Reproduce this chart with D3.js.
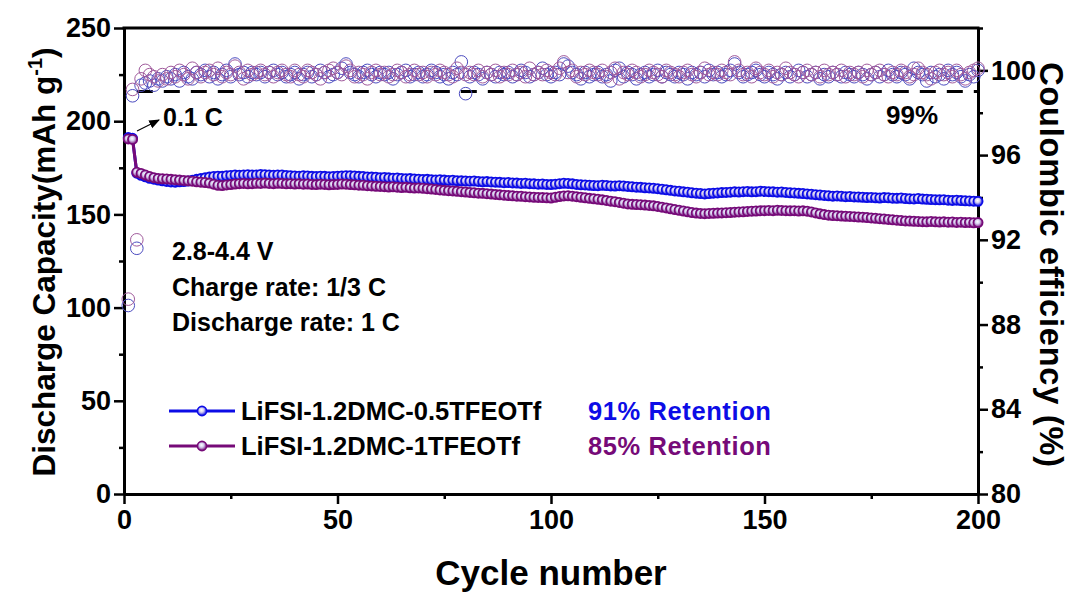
<!DOCTYPE html>
<html>
<head>
<meta charset="utf-8">
<script src="https://cdn.jsdelivr.net/npm/d3@7"></script>
<style>
  body { margin: 0; background: #fff; }
  text { font-family: "Liberation Sans", Arial, sans-serif; font-weight: bold; }
</style>
</head>
<body>
<script>
// discharge capacity, LiFSI-1.2DMC-0.5TFEOTf (mAh/g), cycles 1..200
var cap05 = [
  191.2,190.8,172.1,171.0,170.2,169.4,168.9,168.4,168.0,167.7,
  167.4,167.3,167.5,167.6,167.9,168.3,168.8,169.2,169.6,170.0,
  170.3,170.5,170.4,170.7,170.9,171.1,171.0,171.2,171.3,171.1,
  171.2,171.4,171.3,171.1,171.0,171.2,171.1,170.9,170.8,170.6,
  170.5,170.7,170.6,170.4,170.3,170.5,170.4,170.2,170.3,170.5,
  170.6,170.8,170.7,170.6,170.4,170.3,170.1,170.0,169.9,169.7,
  169.8,169.6,169.4,169.5,169.3,169.1,169.2,169.0,168.9,168.7,
  168.8,168.6,168.5,168.6,168.4,168.2,168.3,168.1,168.0,167.9,
  167.8,167.9,167.7,167.5,167.6,167.4,167.3,167.2,167.0,167.1,
  166.9,166.8,166.6,166.7,166.5,166.4,166.2,166.3,166.1,166.0,
  166.2,166.5,166.7,166.6,166.4,166.1,165.9,165.8,165.6,165.5,
  165.4,165.6,165.5,165.3,165.2,165.4,165.2,165.0,164.8,164.6,
  164.5,164.3,164.2,164.0,163.8,163.5,163.2,162.9,162.6,162.4,
  162.1,161.9,161.6,161.4,161.2,161.0,161.2,161.4,161.5,161.7,
  161.8,161.9,162.1,162.0,162.2,162.3,162.1,162.2,162.4,162.3,
  162.2,162.1,161.9,162.0,161.8,161.6,161.5,161.3,161.2,161.0,
  160.8,160.6,160.4,160.2,160.0,159.8,159.9,159.7,159.5,159.6,
  159.4,159.3,159.2,159.0,159.1,158.9,158.8,159.0,158.9,158.7,
  158.6,158.8,158.5,158.4,158.3,158.5,158.2,158.1,158.0,157.9,
  157.8,157.9,157.6,157.5,157.6,157.4,157.3,157.2,157.1,157.0
];
// discharge capacity, LiFSI-1.2DMC-1TFEOTf
var cap1 = [
  190.5,190.2,172.6,172.0,171.1,170.3,169.7,169.3,169.1,169.0,
  168.8,168.6,168.4,168.2,168.0,167.8,167.5,167.3,167.1,166.8,
  166.2,165.6,165.5,165.8,166.0,166.3,166.5,166.6,166.4,166.5,
  166.7,166.6,166.8,166.6,166.5,166.7,166.6,166.4,166.5,166.3,
  166.4,166.2,166.3,166.1,166.0,166.2,166.1,165.9,166.0,166.1,
  166.3,166.2,166.0,165.9,165.7,165.6,165.4,165.3,165.1,165.0,
  164.9,164.7,164.8,164.6,164.4,164.5,164.3,164.1,164.2,164.0,
  163.8,163.6,163.4,163.1,162.9,162.7,162.6,162.4,162.2,162.0,
  161.8,161.6,161.4,161.3,161.1,160.9,160.7,160.5,160.3,160.1,
  160.0,159.8,159.7,159.5,159.4,159.2,159.1,159.0,158.9,158.8,
  159.2,159.6,159.9,160.0,159.8,159.5,159.2,158.9,158.6,158.4,
  158.1,157.8,157.5,157.1,156.8,156.4,156.0,155.6,155.4,155.3,
  155.2,155.0,154.8,154.6,154.3,153.9,153.5,153.0,152.6,152.2,
  151.8,151.4,151.0,150.7,150.5,150.4,150.5,150.6,150.7,150.8,
  150.9,151.0,151.2,151.3,151.4,151.6,151.7,151.8,151.9,152.0,
  152.1,152.0,152.2,152.1,152.0,151.9,152.0,151.8,151.9,151.7,
  151.3,150.8,150.3,149.9,149.6,149.4,149.3,149.1,149.0,148.9,
  148.8,148.6,148.5,148.3,148.1,147.9,147.7,147.5,147.3,147.1,
  146.9,146.7,146.5,146.4,146.3,146.2,146.1,146.0,146.2,146.0,
  145.9,146.0,145.8,145.9,145.7,145.8,145.6,145.7,145.5,145.6
];
// coulombic efficiency (%), 0.5TFEOTf
var ce05 = [
  88.9,98.8,91.6,99.3,99.4,99.5,99.3,99.6,99.5,99.7,
  99.6,99.8,99.5,99.9,99.7,99.6,99.9,99.8,100.0,99.7,
  99.9,99.6,99.8,100.0,99.7,100.3,99.8,99.9,99.7,99.9,
  99.8,99.9,99.7,99.9,100.0,99.8,99.9,99.7,99.8,99.9,
  99.6,99.8,99.9,99.7,99.8,100.0,99.9,99.7,99.8,99.9,
  100.1,100.3,99.9,99.8,99.7,99.9,100.0,99.8,99.7,99.9,
  99.8,99.9,99.6,99.8,99.9,100.0,99.7,99.8,99.9,99.7,
  99.8,100.0,99.9,99.7,99.8,99.6,99.9,99.8,100.4,98.9,
  99.7,99.9,99.8,99.6,99.9,99.8,99.7,99.9,99.8,99.9,
  99.7,99.8,100.0,99.9,99.7,99.8,99.9,100.1,99.8,99.7,
  99.9,99.8,100.3,100.2,99.9,99.8,99.6,99.9,99.7,99.8,
  99.9,99.7,99.8,99.5,100.0,100.1,99.7,99.9,99.8,99.6,
  99.8,99.9,99.7,99.8,100.0,99.7,99.9,99.8,99.7,99.9,
  99.8,99.6,99.9,99.8,99.9,99.7,100.0,99.8,99.9,99.7,
  99.8,100.0,100.3,99.9,99.7,99.8,99.9,100.0,99.8,99.7,
  99.9,99.8,99.6,99.8,99.9,99.7,99.8,100.0,99.9,99.7,
  99.8,99.9,99.6,99.8,99.7,99.9,99.8,99.7,99.9,99.8,
  99.7,99.9,99.8,99.6,99.8,99.9,99.7,99.8,100.0,99.8,
  99.7,99.9,99.8,99.6,100.1,99.9,99.8,99.5,99.9,99.7,
  99.8,99.6,100.0,99.8,99.9,99.7,99.5,99.8,99.7,100.0
];
// coulombic efficiency (%), 1TFEOTf
var ce1 = [
  89.2,99.1,92.0,99.6,100.0,99.8,99.7,99.5,99.8,99.6,
  99.9,99.7,100.0,99.8,99.6,100.1,99.9,99.7,99.9,100.0,
  99.8,100.1,99.7,99.9,99.8,100.2,99.9,99.6,100.0,99.8,
  99.9,100.0,99.8,99.9,99.7,99.9,100.0,99.8,99.7,100.0,
  99.8,99.7,100.0,99.9,99.8,99.6,99.9,100.0,100.1,99.9,
  99.8,100.2,100.0,99.7,99.9,99.8,99.6,99.9,100.0,99.8,
  99.9,99.7,99.8,100.0,99.9,99.7,99.8,100.0,99.8,99.9,
  99.7,99.9,99.8,100.0,99.9,99.8,99.7,100.1,99.9,99.8,
  99.9,99.8,100.0,99.7,99.9,99.8,100.0,99.7,99.9,99.8,
  100.0,99.8,99.9,99.7,100.1,99.8,99.9,99.8,100.0,99.9,
  99.8,100.1,100.4,99.9,100.0,99.7,99.9,99.8,100.0,99.9,
  99.8,100.0,99.7,99.9,100.1,99.6,99.9,99.8,100.0,99.9,
  99.7,99.8,100.0,99.9,99.8,99.7,100.0,99.9,99.8,99.7,
  99.9,100.0,99.8,99.7,99.9,100.1,99.8,99.9,99.8,100.0,
  99.9,99.8,100.4,100.0,99.8,99.9,99.7,100.1,99.9,99.8,
  100.0,99.7,99.9,99.8,100.1,99.9,99.8,99.7,99.9,100.0,
  99.8,99.9,99.7,100.0,99.8,99.9,99.8,100.0,99.7,99.9,
  99.8,99.9,99.7,100.0,99.8,99.9,100.0,99.8,99.7,99.9,
  99.8,100.0,99.9,99.7,99.8,100.1,99.9,99.8,99.6,99.9,
  100.0,99.8,99.9,99.7,100.0,99.8,99.6,99.9,100.0,100.1
];

var xTicks = [0, 50, 100, 150, 200];
var xMinor = [25, 75, 125, 175];
var capTicks = [0, 50, 100, 150, 200, 250];
var capMinor = [25, 75, 125, 175, 225];
var ceTicks = [80, 84, 88, 92, 96, 100];
var ceMinor = [82, 86, 90, 94, 98, 102];

var seriesNames = ["LiFSI-1.2DMC-0.5TFEOTf", "LiFSI-1.2DMC-1TFEOTf"];
var retention = ["91% Retention", "85% Retention"];
var notes = ["2.8-4.4 V", "Charge rate: 1/3 C", "Discharge rate: 1 C"];

var blue = "#0c0ce6", purple = "#760a78";
var W = 1073, H = 592;
var margin = {top: 28, right: 95, bottom: 98, left: 124};
var x0 = margin.left, x1 = W - margin.right, y0 = H - margin.bottom, y1 = margin.top;

var svg = d3.select("body").append("svg").attr("width", W).attr("height", H);

var defs = svg.append("defs");
[["gBlue", blue], ["gPurple", purple]].forEach(function(p) {
  var gr = defs.append("radialGradient").attr("id", p[0])
    .attr("cx", "45%").attr("cy", "40%").attr("r", "60%");
  gr.append("stop").attr("offset", "0%").attr("stop-color", "#ffffff");
  gr.append("stop").attr("offset", "40%").attr("stop-color", "#d6d0f0");
  gr.append("stop").attr("offset", "100%").attr("stop-color", p[1]);
});

var x = d3.scaleLinear().domain([0, 200]).range([x0, x1]);
var yCap = d3.scaleLinear().domain([0, 250]).range([y0, y1]);
var yCE = d3.scaleLinear().domain([80, 102]).range([y0, y1]);

// axes
function styleAxis(sel) {
  sel.select(".domain").attr("stroke-width", 3);
  sel.selectAll(".tick line").attr("stroke-width", 2.5);
  sel.selectAll("text").attr("font-size", 27).attr("font-weight", "bold")
    .attr("font-family", "Liberation Sans, Arial, sans-serif").attr("fill", "#000");
}

svg.append("g").attr("transform", "translate(0," + y0 + ")")
  .call(d3.axisBottom(x).tickValues(xMinor).tickSize(5).tickSizeOuter(0).tickFormat(""))
  .call(styleAxis);
svg.append("g").attr("transform", "translate(0," + y0 + ")")
  .call(d3.axisBottom(x).tickValues(xTicks).tickSize(10).tickSizeOuter(0).tickPadding(6))
  .call(styleAxis);

svg.append("g").attr("transform", "translate(" + x0 + ",0)")
  .call(d3.axisLeft(yCap).tickValues(capMinor).tickSize(5).tickSizeOuter(0).tickFormat(""))
  .call(styleAxis);
svg.append("g").attr("transform", "translate(" + x0 + ",0)")
  .call(d3.axisLeft(yCap).tickValues(capTicks).tickSize(10).tickSizeOuter(0).tickPadding(3))
  .call(styleAxis);

svg.append("g").attr("transform", "translate(" + x1 + ",0)")
  .call(d3.axisRight(yCE).tickValues(ceMinor).tickSize(5).tickSizeOuter(0).tickFormat(""))
  .call(styleAxis);
svg.append("g").attr("transform", "translate(" + x1 + ",0)")
  .call(d3.axisRight(yCE).tickValues(ceTicks).tickSize(10).tickSizeOuter(0).tickPadding(3))
  .call(styleAxis);

svg.append("line").attr("x1", x0 - 1.5).attr("x2", x1 + 1.5).attr("y1", y1).attr("y2", y1)
  .attr("stroke", "#000").attr("stroke-width", 3);

// axis titles
svg.append("text").attr("x", (x0 + x1) / 2).attr("y", 585).attr("text-anchor", "middle")
  .attr("font-size", 35).text("Cycle number");

var lt = svg.append("text").attr("transform", "translate(55,262) rotate(-90)")
  .attr("text-anchor", "middle").attr("font-size", 31.5);
lt.append("tspan").text("Discharge Capacity(mAh g");
lt.append("tspan").attr("font-size", 20).attr("dy", -13).text("-1");
lt.append("tspan").attr("dy", 13).text(")");

svg.append("text").attr("transform", "translate(1040,265) rotate(90)")
  .attr("text-anchor", "middle").attr("font-size", 32.5).attr("letter-spacing", 0.8)
  .text("Coulombic efficiency (%)");

// 99% reference line
svg.append("line").attr("x1", x(3)).attr("x2", x(200)).attr("y1", yCE(99)).attr("y2", yCE(99))
  .attr("stroke", "#000").attr("stroke-width", 3).attr("stroke-dasharray", "16,11");
svg.append("text").attr("x", 912).attr("y", 124).attr("text-anchor", "middle")
  .attr("font-size", 26).text("99%");

// coulombic efficiency (open circles)
[[ce05, "#4c4cc0"], [ce1, "#a05a9c"]].forEach(function(s) {
  svg.append("g").selectAll("circle").data(s[0]).enter().append("circle")
    .attr("cx", function(d, i) { return x(i + 1); })
    .attr("cy", function(d) { return yCE(d); })
    .attr("r", 6.3)
    .attr("fill", "none")
    .attr("stroke", s[1])
    .attr("stroke-width", 1);
});

// capacity lines + markers
var line = d3.line().x(function(d, i) { return x(i + 1); }).y(function(d) { return yCap(d); });
[[cap05, blue, "gBlue"], [cap1, purple, "gPurple"]].forEach(function(s) {
  svg.append("path").datum(s[0]).attr("d", line)
    .attr("fill", "none").attr("stroke", s[1]).attr("stroke-width", 3);
  svg.append("g").selectAll("circle").data(s[0]).enter().append("circle")
    .attr("cx", function(d, i) { return x(i + 1); })
    .attr("cy", function(d) { return yCap(d); })
    .attr("r", 4.6)
    .attr("fill", "url(#" + s[2] + ")")
    .attr("stroke", s[1])
    .attr("stroke-width", 1.8);
});

// 0.1 C annotation
defs.append("marker").attr("id", "arr").attr("viewBox", "0 0 10 10").attr("refX", 9).attr("refY", 5)
  .attr("markerWidth", 9).attr("markerHeight", 9).attr("orient", "auto")
  .append("path").attr("d", "M0,1 L10,5 L0,9 Z").attr("fill", "#000");
svg.append("line").attr("x1", 137).attr("y1", 131).attr("x2", 159).attr("y2", 120)
  .attr("stroke", "#000").attr("stroke-width", 1.2).attr("marker-end", "url(#arr)");
svg.append("text").attr("x", 163).attr("y", 126).attr("font-size", 25).text("0.1 C");

// test conditions
notes.forEach(function(t, i) {
  svg.append("text").attr("x", 172).attr("y", 260 + i * 35.5).attr("font-size", 25).text(t);
});

// legend
[[blue, "gBlue"], [purple, "gPurple"]].forEach(function(s, i) {
  var ly = 411 + i * 35;
  svg.append("line").attr("x1", 169).attr("x2", 235).attr("y1", ly).attr("y2", ly)
    .attr("stroke", s[0]).attr("stroke-width", 3);
  svg.append("circle").attr("cx", 202).attr("cy", ly).attr("r", 4.6)
    .attr("fill", "url(#" + s[1] + ")").attr("stroke", s[0]).attr("stroke-width", 1.6);
  svg.append("text").attr("x", 241).attr("y", ly + 9).attr("font-size", 25.5).text(seriesNames[i]);
  svg.append("text").attr("x", 588).attr("y", ly + 9).attr("font-size", 25.5)
    .attr("letter-spacing", 0.6).attr("fill", s[0]).text(retention[i]);
});
</script>
</body>
</html>
